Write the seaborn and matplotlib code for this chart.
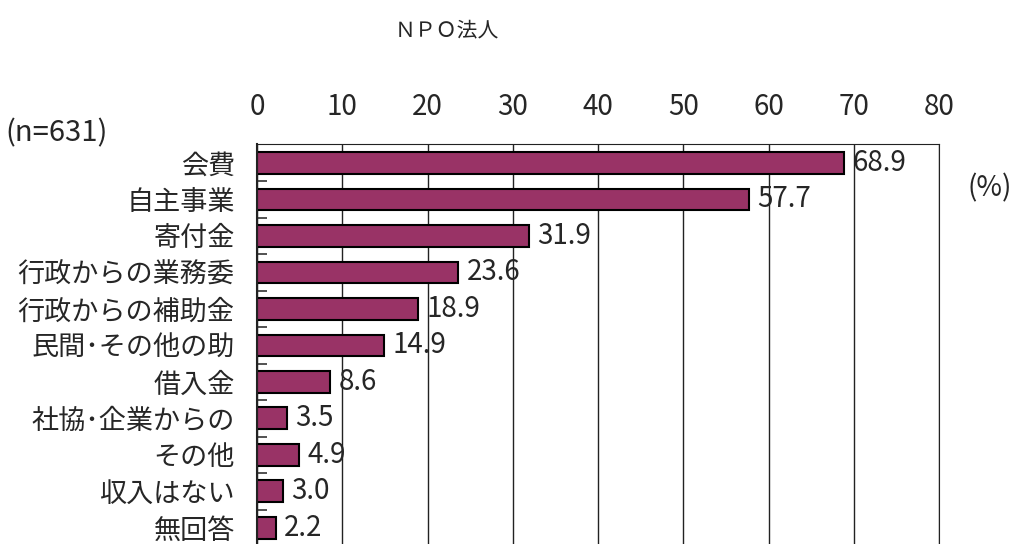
import numpy as np
import pandas as pd
import matplotlib
matplotlib.use('Agg')
import matplotlib.pyplot as plt
import seaborn as sns

# data
categories = ['会費', '自主事業', '寄付金', '行政からの業務委', '行政からの補助金',
              '民間･その他の助', '借入金', '社協･企業からの', 'その他', '収入はない', '無回答']
values = [68.9, 57.7, 31.9, 23.6, 18.9, 14.9, 8.6, 3.5, 4.9, 3.0, 2.2]
x_ticks = [0, 10, 20, 30, 40, 50, 60, 70, 80]
title = 'ＮＰＯ法人'
n_note = '(n=631)'
unit_note = '(%)'

sns.set_style('white')
plt.rcParams['font.family'] = ['Noto Sans CJK JP', 'DejaVu Sans']
num_font = ['Liberation Sans Narrow', 'Noto Sans CJK JP', 'DejaVu Sans']

df = pd.DataFrame({'category': categories, 'value': values})

fig = plt.figure(figsize=(10.16, 5.44), dpi=100)
# axes top at y=144px, extends slightly below the figure edge
ax = fig.add_axes([257 / 1016, -4 / 544, 682 / 1016, 404 / 544])

sns.barplot(data=df, x='value', y='category', orient='h', color='#993366',
            edgecolor='black', linewidth=1.5, width=0.6, saturation=1, ax=ax)

n = len(categories)
ax.set_xlim(0, 80)
ax.set_ylim(n - 0.45, -0.52)
ax.set_xticks(x_ticks)
ax.xaxis.tick_top()
ax.tick_params(axis='x', length=0, pad=16)
for lbl in ax.get_xticklabels():
    lbl.set_family(num_font)
    lbl.set_fontsize(20)
ax.tick_params(axis='y', which='major', length=0, pad=16, labelsize=19.5)
ax.set_yticks(np.arange(n) + 0.5, minor=True)
ax.tick_params(axis='y', which='minor', direction='in', length=7, width=1.2,
               color='#333333', left=True)
ax.set_xlabel('')
ax.set_ylabel('')

ax.grid(axis='x', color='#222222', linewidth=1.0)
ax.set_axisbelow(True)
for side in ['top', 'right', 'left']:
    ax.spines[side].set_visible(True)
    ax.spines[side].set_color('#222222')
ax.spines['left'].set_linewidth(1.5)
ax.spines['bottom'].set_visible(False)

for i, v in enumerate(values):
    ax.annotate(f'{v:.1f}', xy=(v, i), xytext=(6, 0), textcoords='offset points',
                ha='left', va='center', fontsize=20, family=num_font)

fig.text(447 / 1016, 1 - 30 / 544, title, ha='center', va='center', fontsize=15)
fig.text(5 / 1016, 1 - 133 / 544, n_note, ha='left', va='center', fontsize=21,
         family=num_font)
fig.text(1012 / 1016, 1 - 188 / 544, unit_note, ha='right', va='center', fontsize=20,
         family=num_font)

fig.savefig('out.png', dpi=100)
